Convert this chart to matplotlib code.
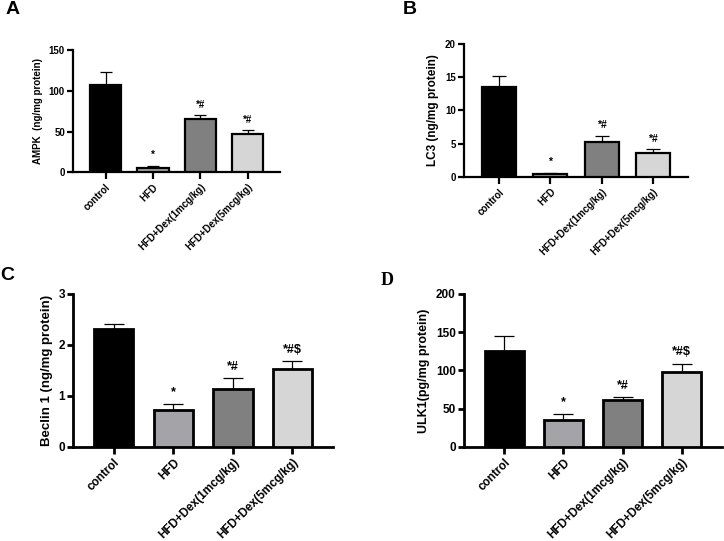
import matplotlib
matplotlib.use("Agg")
import matplotlib.pyplot as plt

plt.rcParams['font.family'] = ['Liberation Sans', 'DejaVu Sans']

groups = ["control", "HFD", "HFD+Dex(1mcg/kg)", "HFD+Dex(5mcg/kg)"]
bar_colors = ["#000000", "#a3a3a8", "#808080", "#d6d6d6"]

ampk_mean = [107.5, 5.3, 65.8, 47.0]
ampk_err = [15.1, 2.9, 4.1, 4.5]
ampk_sig = ["", "*", "*#", "*#"]

lc3_mean = [13.6, 0.4, 5.3, 3.6]
lc3_err = [1.6, 0.25, 0.86, 0.55]
lc3_sig = ["", "*", "*#", "*#"]

beclin_mean = [2.31, 0.73, 1.14, 1.53]
beclin_err = [0.11, 0.115, 0.2, 0.15]
beclin_sig = ["", "*", "*#", "*#$"]

ulk1_mean = [125.3, 34.5, 60.7, 97.4]
ulk1_err = [19.2, 8.3, 3.9, 11.3]
ulk1_sig = ["", "*", "*#", "*#$"]

W, H = 724, 541
fig = plt.figure(figsize=(W / 100, H / 100), dpi=100)


def rect(l, r, t, b):
    return [l / W, 1 - b / H, (r - l) / W, (b - t) / H]


panels = [
    dict(rect=rect(73.3, 280, 50, 172.3), mean=ampk_mean, err=ampk_err, sig=ampk_sig,
         ylim=150, ticks=[0, 50, 100, 150], ylabel="AMPK  (ng/mg protein)",
         fs=7, lfs=7, sfs=7, cap=4.5, lw=1.6, letter="A", lx=6, ly=1, lfs_letter=14,
         lfam='Liberation Sans'),
    dict(rect=rect(464, 688, 44, 177), mean=lc3_mean, err=lc3_err, sig=lc3_sig,
         ylim=20, ticks=[0, 5, 10, 15, 20], ylabel="LC3 (ng/mg protein)",
         fs=7, lfs=8.5, sfs=7.5, cap=5, lw=1.6, letter="B", lx=403, ly=1, lfs_letter=14,
         lfam='Liberation Sans'),
    dict(rect=rect(73.3, 333, 294, 446.7), mean=beclin_mean, err=beclin_err, sig=beclin_sig,
         ylim=3, ticks=[0, 1, 2, 3], ylabel="Beclin 1 (ng/mg protein)",
         fs=8.5, lfs=9.5, sfs=9, cap=7, lw=2.0, letter="C", lx=0, ly=267, lfs_letter=14,
         lfam='Liberation Sans'),
    dict(rect=rect(464, 722, 294, 446.7), mean=ulk1_mean, err=ulk1_err, sig=ulk1_sig,
         ylim=200, ticks=[0, 50, 100, 150, 200], ylabel="ULK1(pg/mg protein)",
         fs=8.5, lfs=9, sfs=9, cap=7, lw=2.0, letter="D", lx=381, ly=272, lfs_letter=13,
         lfam='Liberation Serif'),
]

for p in panels:
    ax = fig.add_axes(p["rect"])
    x = list(range(len(groups)))
    ax.bar(x, p["mean"], width=0.66, color=bar_colors, edgecolor="black",
           linewidth=p["lw"], zorder=3)
    ax.errorbar(x, p["mean"], yerr=[[0] * 4, p["err"]], fmt="none", ecolor="black",
                elinewidth=0.9, capsize=p["cap"], capthick=0.9, zorder=2)
    for xi, m, e, s in zip(x, p["mean"], p["err"], p["sig"]):
        if s:
            ax.annotate(s, (xi, m + e), xytext=(0, 4), textcoords="offset points",
                        ha="center", va="bottom", fontsize=p["sfs"], fontweight="bold")
    ax.set_xlim(-0.68, 3.68)
    ax.set_ylim(0, p["ylim"])
    ax.set_yticks(p["ticks"])
    ax.set_xticks(x)
    ax.set_xticklabels(groups, rotation=45, ha="right", va="top", rotation_mode="anchor",
                       fontsize=p["fs"], fontweight="bold")
    for lab in ax.get_yticklabels():
        lab.set_fontsize(p["fs"])
        lab.set_fontweight("bold")
    ax.set_ylabel(p["ylabel"], fontsize=p["lfs"], fontweight="bold")
    for side in ("top", "right"):
        ax.spines[side].set_visible(False)
    for side in ("left", "bottom"):
        ax.spines[side].set_linewidth(p["lw"])
    ax.tick_params(axis="both", direction="out", width=p["lw"], length=4, pad=2)
    ax.tick_params(axis="x", length=5)
    fig.text(p["lx"] / W, 1 - p["ly"] / H, p["letter"], fontsize=p["lfs_letter"],
             fontweight="bold", ha="left", va="top", family=p["lfam"])

fig.savefig("out.png", dpi=100)
